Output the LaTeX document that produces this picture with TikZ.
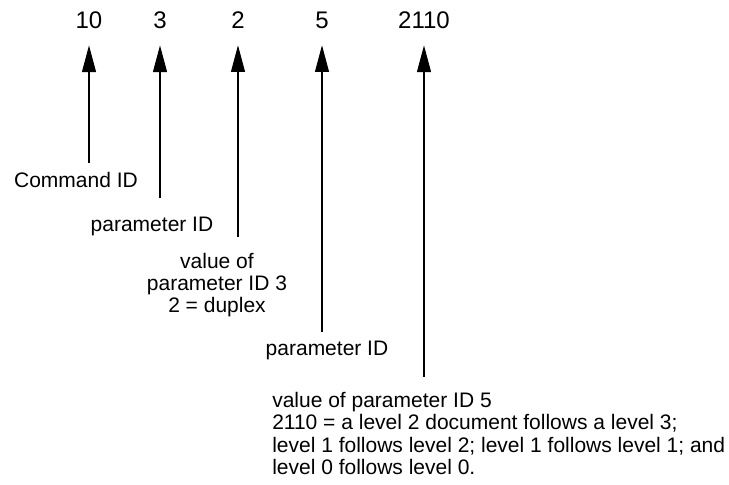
\documentclass[tikz,border=0pt]{standalone}
\usepackage{fontspec}
\setmainfont{Liberation Sans}
\usetikzlibrary{arrows.meta}
\tikzset{
  num/.style = {inner sep=0, font=\fontsize{18}{20}\selectfont},
  txt/.style = {inner sep=0, font=\fontsize{15.75}{16.75}\selectfont},
  idarrow/.style = {-{Triangle[length=20pt, width=10.5pt]}, line width=0.8pt, shorten >=12.5pt}
}
\begin{document}
\begin{tikzpicture}[x=0.75pt, y=-0.75pt]
\useasboundingbox (0,0) rectangle (729,485);
\node[num] (n10) at (89,20) {10};
\node[num] (n3) at (160,20) {3};
\node[num] (n2) at (238,20) {2};
\node[num] (n5) at (322,20) {5};
\node[num] (n2110) at (424,20) {2110};
\node[txt] (cmd) at (76,180) {Command ID};
\node[txt] (par3) at (152,226) {parameter ID};
\node[txt, align=center] (val3) at (217,285) {value of\\parameter ID 3\\2 = duplex};
\node[txt] (par5) at (327,350) {parameter ID};
\node[txt, align=left, anchor=north west] (val5) at (272,392) {value of parameter ID 5\\2110 = a level 2 document follows a level 3;\\level 1 follows level 2; level 1 follows level 1; and\\level 0 follows level 0.};
\coordinate (e10) at (89,163);
\coordinate (e3) at (160,198);
\coordinate (e2) at (238,237);
\coordinate (e5) at (322,332);
\coordinate (e2110) at (424,377);
\draw[idarrow] (e10) -- (n10);
\draw[idarrow] (e3) -- (n3);
\draw[idarrow] (e2) -- (n2);
\draw[idarrow] (e5) -- (n5);
\draw[idarrow] (e2110) -- (n2110);
\end{tikzpicture}
\end{document}
